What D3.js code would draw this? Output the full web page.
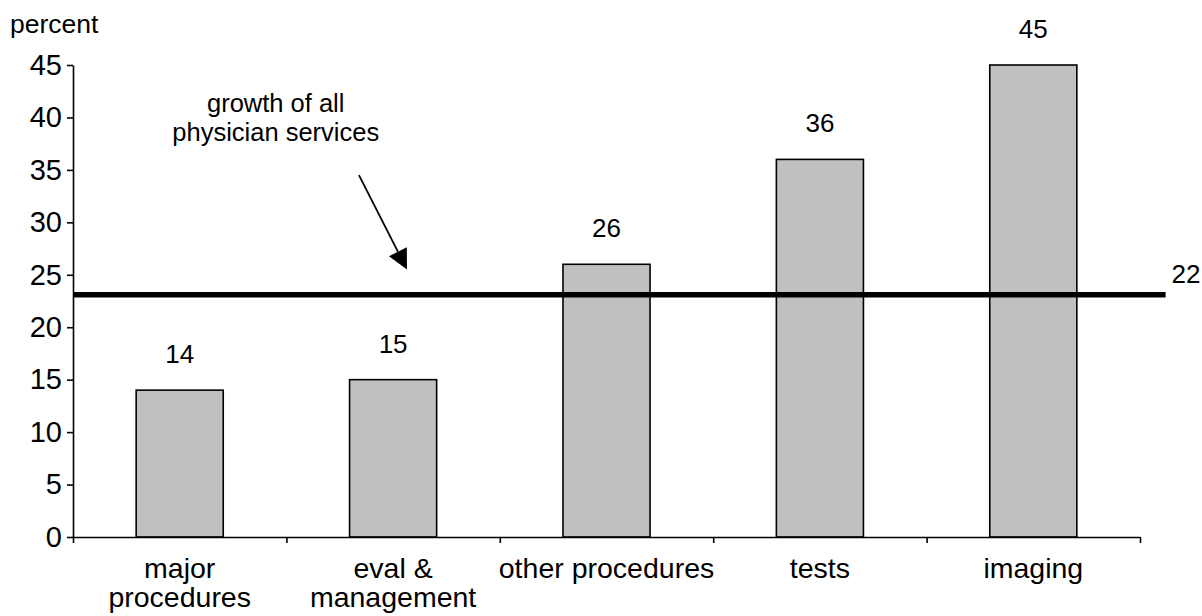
<!DOCTYPE html>
<html>
<head>
<meta charset="utf-8">
<script src="https://cdn.jsdelivr.net/npm/d3@7/dist/d3.min.js"></script>
<style>
  html, body { margin: 0; padding: 0; background: #fff; }
  svg { display: block; font-family: "Liberation Sans", Arial, sans-serif; }
</style>
</head>
<body>
<svg id="chart" width="1202" height="616"></svg>
<script>
// ---- data ----
const categories = [["major", "procedures"], ["eval &", "management"], ["other procedures"], ["tests"], ["imaging"]];
const categoryKeys = ["major procedures", "eval & management", "other procedures", "tests", "imaging"];
const values = [14, 15, 26, 36, 45];
const valueLabels = ["14", "15", "26", "36", "45"];
const yTicks = [0, 5, 10, 15, 20, 25, 30, 35, 40, 45];
const referenceValue = 23.1;        // position of the thick line as drawn
const referenceLabel = "22";         // label printed next to it
const annotationLines = ["growth of all", "physician services"];
const yAxisTitle = "percent";

// ---- layout ----
const svg = d3.select("#chart");
const plotLeft = 73, plotRight = 1140, plotTop = 65, plotBottom = 537;

const y = d3.scaleLinear().domain([0, 45]).range([plotBottom, plotTop]);
const x = d3.scaleBand().domain(categoryKeys).range([plotLeft, plotRight])
  .paddingInner(0.592).paddingOuter(0.296);
// continuous "category units" scale (0..5 across the axis) for boundaries & annotations
const xu = d3.scaleLinear().domain([0, categoryKeys.length]).range([plotLeft, plotRight]);

// bars
svg.append("g").selectAll("rect").data(values).join("rect")
  .attr("x", (d, i) => x(categoryKeys[i]))
  .attr("y", d => y(d))
  .attr("width", x.bandwidth())
  .attr("height", d => y(0) - y(d))
  .attr("fill", "#c0c0c0")
  .attr("stroke", "#000")
  .attr("stroke-width", 1.6);

// value labels
svg.append("g").selectAll("text").data(values).join("text")
  .attr("x", (d, i) => x(categoryKeys[i]) + x.bandwidth() / 2)
  .attr("y", d => y(d) - 27)
  .attr("text-anchor", "middle")
  .attr("font-size", 26)
  .attr("fill", "#000")
  .text((d, i) => valueLabels[i]);

// y axis
const yAxis = svg.append("g").attr("transform", `translate(${plotLeft},0)`)
  .call(d3.axisLeft(y).tickValues(yTicks).tickSize(6).tickSizeOuter(0).tickPadding(5));
yAxis.selectAll("path.domain").attr("stroke", "#000").attr("stroke-width", 1.6);
yAxis.selectAll(".tick line").attr("stroke", "#000").attr("stroke-width", 1.6);
yAxis.selectAll(".tick text").attr("font-size", 29).attr("fill", "#000")
  .attr("font-family", "Liberation Sans, Arial, sans-serif");

// x axis (boundaries)
const xAxis = svg.append("g").attr("transform", `translate(0,${plotBottom})`)
  .call(d3.axisBottom(xu).tickValues(d3.range(0, categoryKeys.length + 1)).tickFormat("").tickSize(6).tickSizeOuter(0));
xAxis.selectAll("path.domain").attr("stroke", "#000").attr("stroke-width", 1.6);
xAxis.selectAll(".tick line").attr("stroke", "#000").attr("stroke-width", 1.6);

// category labels
const catG = svg.append("g");
categories.forEach((lines, i) => {
  const cx = x(categoryKeys[i]) + x.bandwidth() / 2;
  const t = catG.append("text")
    .attr("x", cx)
    .attr("y", 578)
    .attr("text-anchor", "middle")
    .attr("font-size", 28.5)
    .attr("fill", "#000");
  lines.forEach((ln, j) => {
    t.append("tspan").attr("x", cx).attr("dy", j === 0 ? 0 : 29).text(ln);
  });
});

// y axis title
svg.append("text").attr("x", 10).attr("y", 33)
  .attr("font-size", 26.5).attr("fill", "#000").text(yAxisTitle);

// reference line
const lineEnd = xu(5.12);
svg.append("line")
  .attr("x1", plotLeft).attr("x2", lineEnd)
  .attr("y1", y(referenceValue)).attr("y2", y(referenceValue))
  .attr("stroke", "#000").attr("stroke-width", 5.5);
svg.append("text").attr("x", lineEnd + 6).attr("y", y(referenceValue) - 12)
  .attr("font-size", 26).attr("fill", "#000").text(referenceLabel);

// annotation text
const annoX = xu(0.95);
const annoY = [40.55, 37.8];
annotationLines.forEach((ln, i) => {
  svg.append("text").attr("x", annoX).attr("y", y(annoY[i]))
    .attr("text-anchor", "middle").attr("font-size", 25.5).attr("fill", "#000").text(ln);
});

// arrow
const ax1 = xu(1.34), ay1 = y(34.5);
const ax2 = xu(1.565), ay2 = y(25.5);
const dx = ax2 - ax1, dy = ay2 - ay1, len = Math.hypot(dx, dy);
const ux = dx / len, uy = dy / len;
const headLen = 20, headHalf = 10;
const bx = ax2 - ux * headLen, by = ay2 - uy * headLen;
svg.append("line").attr("x1", ax1).attr("y1", ay1).attr("x2", bx).attr("y2", by)
  .attr("stroke", "#000").attr("stroke-width", 1.8);
svg.append("path")
  .attr("d", d3.line()([[ax2, ay2], [bx - uy * headHalf, by + ux * headHalf], [bx + uy * headHalf, by - ux * headHalf]]) + "Z")
  .attr("fill", "#000");
</script>
</body>
</html>
